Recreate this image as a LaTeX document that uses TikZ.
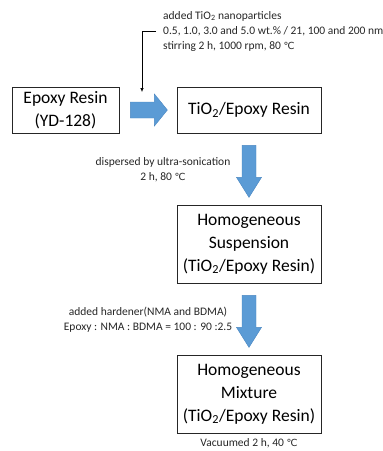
\documentclass[tikz,border=0pt]{standalone}
\usepackage{fontspec}
\setmainfont{Carlito}
\newfontfamily\symfont{DejaVu Sans}[Scale=0.85]
\newcommand{\degC}{{\symfont ℃}}
\usepackage{xcolor}
\usetikzlibrary{positioning,calc,arrows.meta}

\definecolor{fatblue}{HTML}{5B9BD5}
\definecolor{fatedge}{HTML}{4A87C2}

\tikzset{
  stagebox/.style={draw=black!85, line width=0.8pt, fill=white, align=center,
    inner sep=0pt, minimum width=144pt, minimum height=78pt,
    font=\fontsize{17.5}{23}\selectfont},
  note/.style={text=black!85, inner sep=0pt, font=\fontsize{11.5}{15}\selectfont},
  fatarrow/.style={fill=fatblue, draw=fatedge, line width=0.4pt},
  thinarrow/.style={draw=black, line width=0.6pt, -{Latex[length=4pt,width=3.4pt]}}
}

\begin{document}
\begin{tikzpicture}[x=1pt, y=-1pt]
  \useasboundingbox (0,0) rectangle (383,451);

  % Boxes
  \node[stagebox, minimum width=107pt, minimum height=46pt] (resin) at (65.5,110) {Epoxy Resin\\(YD-128)};
  \node[stagebox, minimum height=46pt] (tio) at (249,110) {TiO\textsubscript{2}/Epoxy Resin};
  \node[stagebox] (susp) at (249,244) {Homogeneous\\Suspension\\(TiO\textsubscript{2}/Epoxy Resin)};
  \node[stagebox] (mix) at (249,394) {Homogeneous\\Mixture\\(TiO\textsubscript{2}/Epoxy Resin)};

  % Block arrows
  \fill[fatarrow] ([xshift=11pt]resin.east) ++(0,-8) -- ++(24,0) -- ++(0,-8) -- ++(13,16)
    -- ++(-13,16) -- ++(0,-8) -- ++(-24,0) -- cycle;
  \fill[fatarrow] ([yshift=-12pt]tio.south) ++(-7,0) -- ++(0,32) -- ++(-5.5,0) -- ++(12.5,20)
    -- ++(12.5,-20) -- ++(-5.5,0) -- ++(0,-32) -- cycle;
  \fill[fatarrow] ([yshift=-12pt]susp.south) ++(-7,0) -- ++(0,32) -- ++(-5.5,0) -- ++(12.5,20)
    -- ++(12.5,-20) -- ++(-5.5,0) -- ++(0,-32) -- cycle;

  % Process conditions
  \node[note, anchor=west, align=left] (addtxt) at (163,31) {added TiO\textsubscript{2} nanoparticles\\0.5, 1.0, 3.0 and 5.0 wt.\% / 21, 100 and 200 nm\\stirring 2 h, 1000 rpm, 80 \degC};
  \coordinate (addin) at (142,92);
  \draw[thinarrow] ([xshift=-7pt]addtxt.west) -| (addin);

  \node[note, align=center] (sonictxt) at (163,170) {dispersed by ultra-sonication\\2 h, 80 \degC};
  \node[note, align=center] (hardtxt) at (148,320) {added hardener(NMA and BDMA)\\Epoxy : NMA : BDMA = 100 : 90 :2.5};
  \node[note, below=5pt] (vactxt) at (mix.south) {Vacuumed 2 h, 40 \degC};
\end{tikzpicture}
\end{document}
